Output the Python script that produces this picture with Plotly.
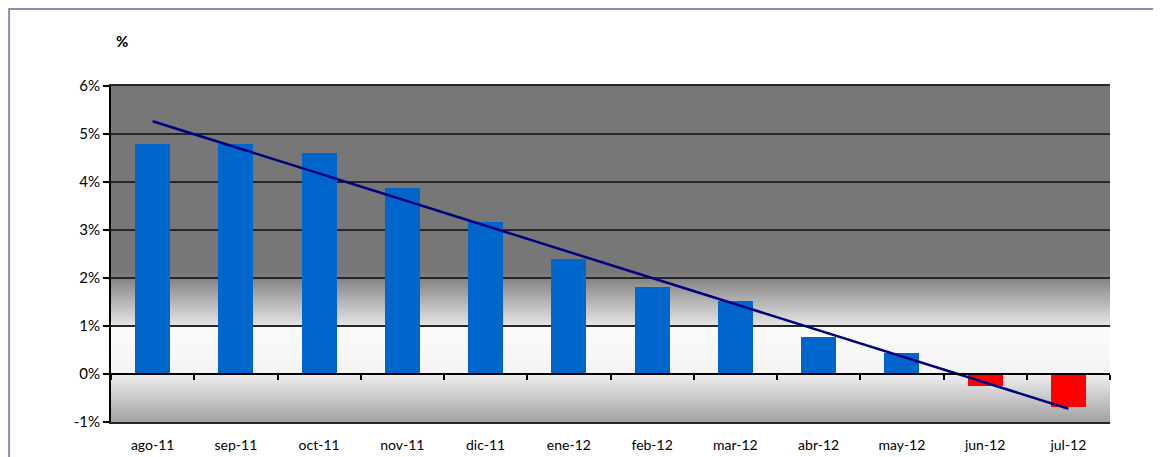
"""Variación mensual con línea de tendencia."""

import base64

import numpy as np
import plotly.graph_objects as go

# ---------------------------------------------------------------------------
# Datos
# ---------------------------------------------------------------------------

MONTHS = ["ago-11", "sep-11", "oct-11", "nov-11", "dic-11", "ene-12",
          "feb-12", "mar-12", "abr-12", "may-12", "jun-12", "jul-12"]
VALUES = [4.79, 4.79, 4.60, 3.88, 3.17, 2.40, 1.82, 1.53, 0.78, 0.43, -0.24, -0.69]
Y_TICKS = [-1, 0, 1, 2, 3, 4, 5, 6]
Y_LABELS = ["-1%", "0%", "1%", "2%", "3%", "4%", "5%", "6%"]

BLUE = "#0066cc"
RED = "#ff0000"
NAVY = "#000080"
GRID = "#262626"
FONT = "Lato"

pos = list(range(len(MONTHS)))
colors = [BLUE if v >= 0 else RED for v in VALUES]

# linear trendline (as in the spreadsheet chart)
slope, intercept = np.polyfit(pos, VALUES, 1)
trend_x = [pos[0], pos[-1]]
trend_y = [intercept + slope * x for x in trend_x]

x_lo, x_hi = -0.5, len(MONTHS) - 0.5
y_lo, y_hi = Y_TICKS[0], Y_TICKS[-1]
span = y_hi - y_lo


def off(v):
    """Gradient offset (0 = top of plot) for a value on the y axis."""
    return (y_hi - v) / span


# background gradient of the plot area, as an svg image
stops = [
    (off(6), "#777777"),
    (off(2.12), "#777777"),
    (off(1.01), "#e6e6e6"),
    (off(0.99), "#fbfbfb"),
    (off(0.01), "#f4f4f4"),
    (off(-0.01), "#eeeeee"),
    (off(-1), "#a2a2a2"),
]
stop_tags = "".join(
    f'<stop offset="{o:.4f}" stop-color="{c}"/>' for o, c in stops
)
svg = (
    '<svg xmlns="http://www.w3.org/2000/svg" width="100" height="100" '
    'preserveAspectRatio="none" viewBox="0 0 100 100">'
    '<defs><linearGradient id="g" x1="0" y1="0" x2="0" y2="1">'
    f"{stop_tags}</linearGradient></defs>"
    '<rect width="100" height="100" fill="url(#g)"/></svg>'
)
bg_src = "data:image/svg+xml;base64," + base64.b64encode(svg.encode()).decode()

fig = go.Figure()

fig.add_trace(go.Bar(
    x=pos,
    y=VALUES,
    width=0.42,
    marker=dict(color=colors, line=dict(width=0)),
    customdata=MONTHS,
    hovertemplate="%{customdata}: %{y:.2f}%<extra></extra>",
    showlegend=False,
))

fig.add_trace(go.Scatter(
    x=trend_x,
    y=trend_y,
    xaxis="x2",
    mode="lines",
    line=dict(color=NAVY, width=2.5),
    hoverinfo="skip",
    showlegend=False,
))

# the page body adds an 8px offset, so margins are shifted to compensate
fig.update_layout(
    width=1161,
    height=457,
    margin=dict(l=103, r=59, t=78, b=43),
    paper_bgcolor="white",
    plot_bgcolor="rgba(0,0,0,0)",
    font=dict(family=FONT, size=14, color="#000000"),
    bargap=0,
    xaxis=dict(
        range=[x_lo, x_hi],
        tickvals=pos,
        ticktext=MONTHS,
        ticks="outside",
        ticklen=9,
        tickcolor="rgba(0,0,0,0)",
        showgrid=False,
        zeroline=False,
        showline=True,
        linecolor=GRID,
        linewidth=1.5,
        mirror=True,
        fixedrange=True,
    ),
    # zero line with ticks between categories
    xaxis2=dict(
        overlaying="x",
        anchor="free",
        position=(0 - y_lo) / span,
        range=[x_lo, x_hi],
        tick0=x_lo,
        dtick=1,
        ticks="outside",
        ticklen=5,
        tickwidth=1.5,
        tickcolor="#000000",
        showticklabels=False,
        showgrid=False,
        zeroline=False,
        showline=True,
        linecolor="#000000",
        linewidth=1.5,
        fixedrange=True,
    ),
    yaxis=dict(
        range=[y_lo, y_hi],
        tickvals=Y_TICKS,
        ticktext=Y_LABELS,
        tickfont=dict(size=15),
        ticks="outside",
        ticklen=6,
        tickwidth=1.5,
        tickcolor="#000000",
        showgrid=True,
        gridcolor=GRID,
        gridwidth=1.5,
        zeroline=False,
        showline=True,
        linecolor="#000000",
        linewidth=2,
        fixedrange=True,
    ),
    images=[dict(
        source=bg_src,
        xref="x", yref="y",
        x=x_lo, y=y_hi,
        sizex=x_hi - x_lo, sizey=span,
        sizing="stretch",
        xanchor="left", yanchor="top",
        layer="below",
    )],
    annotations=[dict(
        text="<b>%</b>",
        xref="paper", yref="paper",
        x=0.011, y=1.134,
        xanchor="center", yanchor="middle",
        showarrow=False,
        font=dict(family=FONT, size=15),
    )],
    shapes=[dict(
        type="rect",
        xref="paper", yref="paper",
        x0=-0.102, x1=1.058, y0=-0.125, y1=1.229,
        line=dict(color="#8c8cba", width=2),
        fillcolor="rgba(0,0,0,0)",
        layer="below",
    )],
)

fig.write_html("out.html")
